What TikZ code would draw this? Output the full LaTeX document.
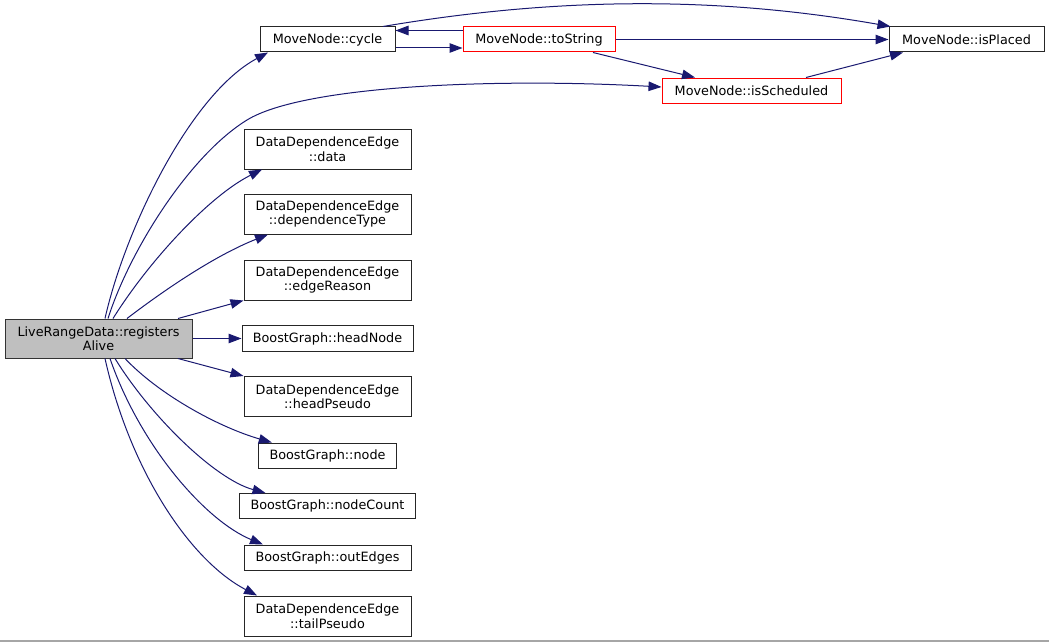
\documentclass[tikz,border=0pt]{standalone}
\usepackage{fontspec}
\setmainfont{DejaVu Sans}
\usetikzlibrary{arrows.meta}

\definecolor{edgeblue}{HTML}{191970}
\definecolor{rootgray}{HTML}{BFBFBF}

\tikzset{
  fn/.style={draw=black!85, line width=1pt, rectangle, inner sep=0pt, align=center,
             font=\fontsize{12.8}{14.5}\selectfont},
  fnred/.style={fn, draw=red},
  call/.style={draw=edgeblue, line width=1pt, -{Triangle[length=13pt,width=9.5pt]}},
}

\begin{document}
\begin{tikzpicture}[x=1pt, y=-1pt]
   \useasboundingbox (0,0) rectangle (1049,642);

   \node[fn, fill=rootgray, draw=black!80, minimum width=187, minimum height=39] (reg) at (98.5,338.5) {LiveRangeData::registers\\Alive};

   \node[fn, minimum width=135, minimum height=25] (cycle) at (327.5,39.5) {MoveNode::cycle};
   \node[fnred, minimum width=152, minimum height=25] (toString) at (539,39.5) {MoveNode::toString};
   \node[fn, minimum width=155, minimum height=25] (isPlaced) at (966.5,39.5) {MoveNode::isPlaced};
   \node[fnred, minimum width=179, minimum height=25] (isScheduled) at (751.5,90.5) {MoveNode::isScheduled};

   % callee column
   \node[fn, minimum width=167, minimum height=40] (data) at (327.5,149) {DataDependenceEdge\\::data};
   \node[fn, minimum width=167, minimum height=40] (depType) at (327.5,214) {DataDependenceEdge\\::dependenceType};
   \node[fn, minimum width=167, minimum height=40] (edgeReason) at (327.5,280) {DataDependenceEdge\\::edgeReason};
   \node[fn, minimum width=171, minimum height=26] (headNode) at (327.5,338.5) {BoostGraph::headNode};
   \node[fn, minimum width=167, minimum height=40] (headPseudo) at (327.5,396.5) {DataDependenceEdge\\::headPseudo};
   \node[fn, minimum width=138, minimum height=25] (bgNode) at (327.5,455.5) {BoostGraph::node};
   \node[fn, minimum width=176, minimum height=25] (nodeCount) at (327.5,506) {BoostGraph::nodeCount};
   \node[fn, minimum width=167, minimum height=25] (outEdges) at (327.5,557.5) {BoostGraph::outEdges};
   \node[fn, minimum width=167, minimum height=40] (tailPseudo) at (327.5,616) {DataDependenceEdge\\::tailPseudo};

   \coordinate (schedBend) at (247,120);

   % calls from the root
   \draw[call] ([xshift=6.5]reg.north) .. controls +(20,-89) and +(-78,42) .. ([xshift=-59.5]cycle.south);
   \draw[call] ([xshift=9.5]reg.north) .. controls +(22,-69) and +(-57,35) .. (schedBend)
       .. controls +(57,-35) and +(-162,-9) .. ([yshift=3.5]isScheduled.west);
   \draw[call] ([xshift=14.5]reg.north) .. controls +(37,-59) and +(-52,26) .. ([xshift=-65.5]data.south);
   \draw[call] ([xshift=28.5]reg.north) .. controls +(38,-29) and +(-53,21) .. ([xshift=-59.5]depType.south);
   \draw[call] ([xshift=79.5]reg.north) -- (edgeReason.south west);
   \draw[call] (reg.east) -- (headNode.west);
   \draw[call] ([xshift=79.5]reg.south) -- (headPseudo.north west);
   \draw[call] ([xshift=26.5]reg.south) .. controls +(35,37) and +(-52,-15) .. ([xshift=-55.7]bgNode.north);
   \draw[call] ([xshift=16.5]reg.south) .. controls +(35,57) and +(-51,-14) .. ([xshift=-62]nodeCount.north);
   \draw[call] ([xshift=11.5]reg.south) .. controls +(30,87) and +(-58,-24) .. ([xshift=-64.5]outEdges.north);
   \draw[call] ([xshift=6.5]reg.south) .. controls +(25,112) and +(-67,-35) .. ([xshift=-70.5]tailPseudo.north);

   % MoveNode calls
   \draw[call] ([yshift=-8.5]cycle.east) -- ([yshift=-8.5]toString.west);
   \draw[call] ([yshift=9]toString.west) -- ([yshift=9]cycle.east);
   \draw[call] ([xshift=55.5]cycle.north) .. controls +(177,-30) and +(-171,-30) .. ([xshift=2]isPlaced.north west);
   \draw[call] (toString.east) -- (isPlaced.west);
   \draw[call] ([xshift=54]toString.south) -- ([xshift=-56.5]isScheduled.north);
   \draw[call] ([xshift=54.5]isScheduled.north) -- ([xshift=-63.5]isPlaced.south);

   \draw[black!35, line width=2pt] (0,640.5) -- (1049,640.5);

\end{tikzpicture}
\end{document}
